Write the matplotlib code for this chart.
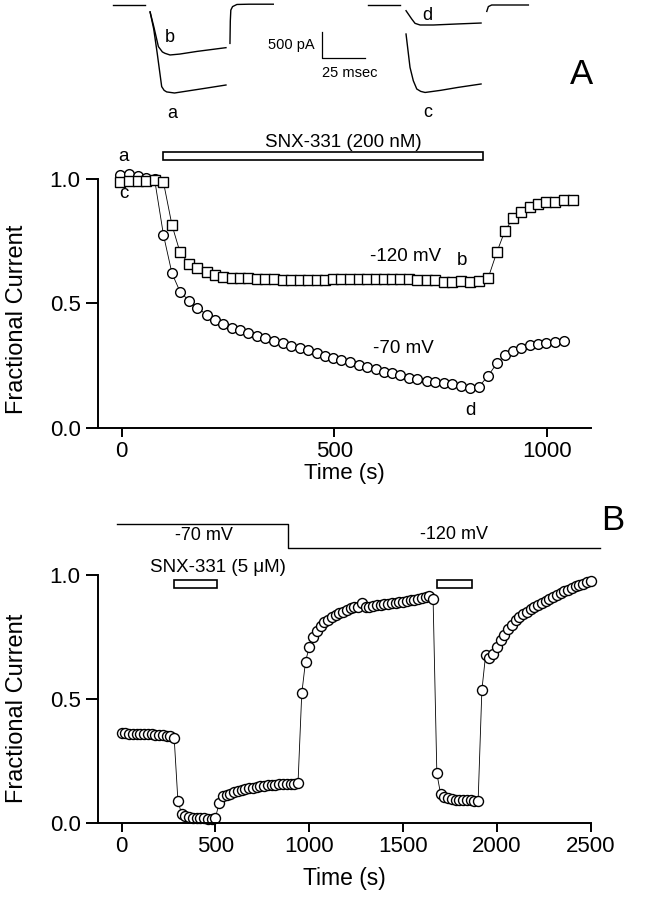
import matplotlib.pyplot as plt
from matplotlib.patches import Rectangle

plt.rcParams['font.family'] = ['Liberation Sans', 'DejaVu Sans']

# ---------------- panel A data (time in s, fractional current) ----------------
time_a = [-4, 18, 38, 57, 77, 98, 118, 137, 159, 178, 200, 220, 239, 259, 279,
          298, 318, 337, 357, 379, 399, 418, 438, 458, 477, 497, 516, 536, 557,
          577, 597, 616, 636, 655, 675, 695, 717, 736, 757, 777, 797, 819, 840,
          862, 882, 901, 921, 940, 960, 980, 999, 1020, 1040, 1062]
frac_120 = [0.989, 0.992, 0.992, 0.993, 0.996, 0.987, 0.815, 0.705, 0.657, 0.641,
            0.625, 0.614, 0.607, 0.603, 0.601, 0.601, 0.598, 0.598, 0.598, 0.594,
            0.594, 0.594, 0.594, 0.594, 0.594, 0.598, 0.598, 0.598, 0.598, 0.598,
            0.598, 0.598, 0.598, 0.598, 0.598, 0.594, 0.594, 0.594, 0.585, 0.587,
            0.590, 0.587, 0.590, 0.603, 0.705, 0.791, 0.845, 0.869, 0.889, 0.898,
            0.906, 0.906, 0.914, 0.914]
frac_70 = [1.016, 1.020, 1.013, 1.005, 1.000, 0.775, 0.621, 0.547, 0.509, 0.483,
           0.453, 0.433, 0.416, 0.402, 0.393, 0.379, 0.370, 0.359, 0.349, 0.339,
           0.330, 0.319, 0.311, 0.299, 0.290, 0.282, 0.272, 0.263, 0.252, 0.245,
           0.236, 0.225, 0.219, 0.212, 0.201, 0.196, 0.188, 0.182, 0.178, 0.174,
           0.169, 0.158, 0.165, 0.209, 0.259, 0.292, 0.308, 0.322, 0.333, 0.335,
           0.339, 0.346, 0.349]
drug_a = (98, 849)  # SNX-331 200 nM application (s)

# ---------------- panel B data ----------------
time_b = [0, 20, 40, 60, 80, 100, 120, 140, 160, 180, 200, 220, 240, 260, 280,
          300, 320, 340, 360, 380, 400, 420, 440, 460, 480, 500,
          520, 540, 560, 580, 600, 620, 640, 660, 680, 700, 720, 740, 760, 780,
          800, 820, 840, 860, 880, 900, 920, 940,
          960, 980, 1000, 1020, 1040, 1060, 1080, 1100, 1120, 1140, 1160, 1180,
          1200, 1220, 1240, 1260, 1280, 1300, 1320, 1340, 1360, 1380, 1400, 1420,
          1440, 1460, 1480, 1500, 1520, 1540, 1560, 1580, 1600, 1620, 1640, 1660,
          1680, 1700, 1720, 1740, 1760, 1780, 1800, 1820, 1840, 1860, 1880, 1900,
          1920, 1940, 1960, 1980, 2000, 2020, 2040, 2060, 2080, 2100, 2120, 2140,
          2160, 2180, 2200, 2220, 2240, 2260, 2280, 2300, 2320, 2340, 2360, 2380,
          2400, 2420, 2440, 2460, 2480, 2500]
frac_b = [0.362, 0.362, 0.361, 0.360, 0.360, 0.360, 0.359, 0.358, 0.358, 0.357,
          0.356, 0.355, 0.353, 0.350, 0.343,
          0.090, 0.037, 0.030, 0.027, 0.022, 0.020, 0.020, 0.020, 0.019, 0.018, 0.022,
          0.083, 0.108, 0.112, 0.118, 0.125, 0.130, 0.134, 0.138, 0.141, 0.144,
          0.147, 0.149, 0.151, 0.153, 0.154, 0.156, 0.157, 0.158, 0.158, 0.159,
          0.160, 0.161,
          0.523, 0.651, 0.711, 0.752, 0.775, 0.795, 0.810, 0.820, 0.830, 0.838,
          0.846, 0.852, 0.859, 0.866, 0.872, 0.872, 0.886, 0.870, 0.873, 0.876,
          0.879, 0.881, 0.883, 0.885, 0.887, 0.889, 0.891, 0.893, 0.895, 0.898,
          0.900, 0.903, 0.906, 0.910, 0.914, 0.903,
          0.201, 0.118, 0.107, 0.100, 0.097, 0.095, 0.094, 0.093, 0.092, 0.092,
          0.091, 0.090,
          0.537, 0.678, 0.664, 0.682, 0.711, 0.737, 0.760, 0.782, 0.800, 0.818,
          0.831, 0.842, 0.852, 0.862, 0.872, 0.881, 0.889, 0.897, 0.905, 0.913,
          0.920, 0.927, 0.934, 0.941, 0.948, 0.954, 0.959, 0.965, 0.970, 0.977]
drug_b = [(279, 506), (1683, 1869)]  # SNX-331 5 uM applications (s)
hold_t = [-27, 888, 888, 2550]      # holding potential protocol
hold_lvl = [1.205, 1.205, 1.110, 1.110]

# ---------------- example current traces (ms, pA) ----------------
pre_l_t, pre_l_i = [-18.5, 0], [0, 0]
trace_a_t = [2.9, 5, 7, 9.6, 11, 12.5, 17, 25, 35, 46.7]
trace_a_i = [-130, -450, -900, -1530, -1600, -1630, -1650, -1610, -1560, -1500]
trace_b_t = [2.9, 5, 7.7, 10, 11.5, 14.4, 20, 30, 46.7]
trace_b_i = [-130, -400, -780, -880, -906, -937, -920, -870, -800]
tail_l_t = [49, 49.2, 49.5, 50.5, 53, 60, 74]
tail_l_i = [-720, -300, -95, -30, 10, 15, 15]

pre_r_t, pre_r_i = [-21.7, -3.5], [0, 0]
trace_d_t = [0, 3.3, 5.2, 8.1, 15.8, 30, 43.3]
trace_d_i = [-107, -263, -344, -375, -375, -355, -338]
trace_c_t = [0, 2.3, 4.2, 6.2, 8.5, 11, 20, 30, 43.3]
trace_c_i = [-544, -1170, -1420, -1575, -1620, -1640, -1600, -1545, -1481]
tail_r_t = [46.6, 47.5, 49.4, 70.6]
tail_r_i = [-120, -30, 0, 0]
r_offset = 150.6  # right pair of traces drawn further along

fig = plt.figure(figsize=(6.45, 9), dpi=100)

# ---- traces ----
axt = fig.add_axes([0, 1 - 125 / 900, 1, 125 / 900])
axt.set_xlim(-83.7, 288.5)
axt.set_ylim(-2250, 93.75)
axt.axis('off')
tkw = dict(color='black', lw=1.0)
axt.plot(pre_l_t, pre_l_i, **tkw)
axt.plot(trace_a_t, trace_a_i, **tkw)
axt.plot(trace_b_t, trace_b_i, **tkw)
axt.plot(tail_l_t, tail_l_i, **tkw)
axt.plot([t + r_offset for t in pre_r_t], pre_r_i, **tkw)
axt.plot([t + r_offset for t in trace_d_t], trace_d_i, **tkw)
axt.plot([t + r_offset for t in trace_c_t], trace_c_i, **tkw)
axt.plot([t + r_offset for t in tail_r_t], tail_r_i, **tkw)
# scale bar 500 pA / 25 ms
axt.plot([102, 102, 127], [-500, -1000, -1000], color='black', lw=0.9)
axt.text(98, -750, '500 pA', ha='right', va='center', fontsize=10.5)
axt.text(102, -1270, '25 msec', ha='left', va='center', fontsize=10.5)
axt.text(14.4, -600, 'b', ha='center', va='center', fontsize=13)
axt.text(15.6, -2030, 'a', ha='center', va='center', fontsize=13)
axt.text(12 + r_offset, -200, 'd', ha='center', va='center', fontsize=13)
axt.text(12.3 + r_offset, -2010, 'c', ha='center', va='center', fontsize=13)


def style_axes(ax, xticks):
    for s in ['top', 'right']:
        ax.spines[s].set_visible(False)
    ax.spines['left'].set_bounds(0, 1)
    ax.spines['left'].set_linewidth(1.4)
    ax.spines['bottom'].set_linewidth(1.4)
    ax.set_yticks([0.0, 0.5, 1.0])
    ax.set_yticklabels(['0.0', '0.5', '1.0'])
    ax.set_xticks(xticks)
    ax.tick_params(axis='y', length=8.5, width=1.4, pad=4, labelsize=16)
    ax.tick_params(axis='x', length=6.5, width=1.4, pad=3, labelsize=16)


# ---- panel A ----
axA = fig.add_axes([98 / 645, 1 - 427.7 / 900, (590.7 - 98) / 645, 298.4 / 900])
axA.set_xlim(-56, 1103)
axA.set_ylim(0, 1.2)
style_axes(axA, [0, 500, 1000])
mk = dict(color='black', lw=0.6, mfc='white', mec='black', mew=1.0, clip_on=False)
axA.plot(time_a[:len(frac_70)], frac_70, marker='o', ms=7, **mk)
axA.plot(time_a, frac_120, marker='s', ms=6.5, **mk)
axA.add_patch(Rectangle((drug_a[0], 1.076), drug_a[1] - drug_a[0], 0.034,
                        fc='white', ec='black', lw=1.2, clip_on=False))
axA.text(521, 1.145, 'SNX-331 (200 nM)', ha='center', va='center', fontsize=13.5)
axA.text(4, 1.09, 'a', ha='center', va='center', fontsize=13.5)
axA.text(4, 0.942, 'c', ha='center', va='center', fontsize=13.5)
axA.text(667, 0.688, '-120 mV', ha='center', va='center', fontsize=13.5)
axA.text(801, 0.674, 'b', ha='center', va='center', fontsize=13.5)
axA.text(663, 0.319, '-70 mV', ha='center', va='center', fontsize=13.5)
axA.text(820, 0.071, 'd', ha='center', va='center', fontsize=13.5)

# ---- panel B ----
axB = fig.add_axes([98 / 645, 1 - 823.3 / 900, (590.7 - 98) / 645, 313.3 / 900])
axB.set_xlim(-126, 2500)
axB.set_ylim(0, 1.262)
style_axes(axB, [0, 500, 1000, 1500, 2000, 2500])
axB.plot(time_b, frac_b, marker='o', ms=7.2, **mk)
for t0, t1 in drug_b:
    axB.add_patch(Rectangle((t0, 0.947), t1 - t0, 0.034,
                            fc='white', ec='black', lw=1.2, clip_on=False))
axB.plot(hold_t, hold_lvl, color='black', lw=1.0, clip_on=False)
axB.text(440, 1.158, '-70 mV', ha='center', va='center', fontsize=13)
axB.text(1773, 1.162, '-120 mV', ha='center', va='center', fontsize=13)
axB.text(511, 1.029, 'SNX-331 (5 \u03bcM)', ha='center', va='center', fontsize=13.5)

# axis labels and panel letters
fig.text(344 / 645, 1 - 473 / 900, 'Time (s)', ha='center', va='center', fontsize=16)
fig.text(344 / 645, 1 - 879 / 900, 'Time (s)', ha='center', va='center', fontsize=16.5)
fig.text(17 / 645, 1 - 319 / 900, 'Fractional Current', rotation=90,
         ha='center', va='center', fontsize=17)
fig.text(17 / 645, 1 - 708 / 900, 'Fractional Current', rotation=90,
         ha='center', va='center', fontsize=17)
fig.text(582 / 645, 1 - 74 / 900, 'A', ha='center', va='center', fontsize=25)
fig.text(613 / 645, 1 - 520 / 900, 'B', ha='center', va='center', fontsize=25)

fig.savefig('out.png', dpi=100)
